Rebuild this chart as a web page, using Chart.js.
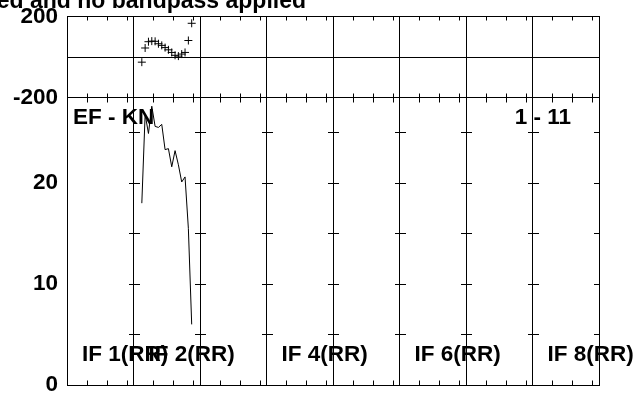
<!DOCTYPE html>
<html>
<head>
<meta charset="utf-8">
<script src="https://cdn.jsdelivr.net/npm/chart.js@4/dist/chart.umd.min.js"></script>
<style>
  body { margin: 0; background: #fff; }
  canvas { display: block; }
</style>
</head>
<body>
<canvas id="myChart" width="642" height="394"></canvas>
<script>
// channels of the one baseline that has data (IF 2), 20 channels per IF
const channels = [23, 24, 25, 26, 27, 28, 29, 30, 31, 32, 33, 34, 35, 36, 37, 38];
const phase = [-28, 42, 73, 76, 75, 63, 55, 44, 33, 20, 6, 2, 12, 20, 79, 164];
const amp = [18.0, 26.8, 24.9, 27.6, 25.6, 25.5, 25.8, 23.3, 23.4, 21.6, 23.2, 21.8, 20.1, 20.6, 15.5, 6.0];

const ampTicks = [0, 10, 20];
const ampMinorTicks = [5, 10, 15, 20, 25];
const phaseTicks = [200, -200];
const ifLabels = ['IF 1(RR)', 'IF 2(RR)', 'IF 4(RR)', 'IF 6(RR)', 'IF 8(RR)'];
const ifLabelPanels = [1, 2, 4, 6, 8];
const baselineLabel = 'EF - KN';
const timeLabel = '1 - 11';
const titleText = 'ed and no bandpass applied';

const nIf = 8;
const chPerIf = 20;
const tickOffsets = [6, 12, 18];   // channel offsets of the small x ticks inside each IF

const FAMILY = '"Liberation Sans", Arial, sans-serif';
const FONT = 'bold 22.5px ' + FAMILY;

const ctx = document.getElementById('myChart').getContext('2d');

// frame, ticks and labels in the AIPS POSSM style
const possmFrame = {
    id: 'possmFrame',
    afterDraw(chart) {
        const c = chart.ctx;
        const a = chart.chartArea;
        const xs = chart.scales.x;
        const ys = chart.scales.y;
        const ps = chart.scales.ph;
        const snap = v => Math.round(v) + 0.5;

        c.save();
        c.strokeStyle = '#000';
        c.lineWidth = 1;

        const L = snap(a.left), R = snap(a.right), T = snap(a.top), B = snap(a.bottom);
        c.strokeRect(L, T, R - L, B - T);

        const yZero = snap(ps.getPixelForValue(0));
        const yLow = snap(ps.getPixelForValue(-200));
        c.beginPath();
        c.moveTo(L, yZero); c.lineTo(R, yZero);
        c.moveTo(L, yLow); c.lineTo(R, yLow);
        c.stroke();

        // small x ticks
        c.beginPath();
        for (let p = 0; p < nIf; p++) {
            tickOffsets.forEach(off => {
                const x = snap(xs.getPixelForValue(0.5 + p * chPerIf + off));
                c.moveTo(x, T); c.lineTo(x, T + 4);
                c.moveTo(x, yLow - 4); c.lineTo(x, yLow + 5);
                c.moveTo(x, B); c.lineTo(x, B - 5);
            });
        }
        // amplitude ticks on the IF dividers
        for (let p = 1; p <= nIf; p++) {
            const x = Math.round(xs.getPixelForValue(0.5 + p * chPerIf));
            ampMinorTicks.forEach(v => {
                const y = snap(ys.getPixelForValue(v));
                c.moveTo(x - 5, y); c.lineTo(Math.min(x + 6, R), y);
            });
        }
        c.stroke();

        c.fillStyle = '#000';
        c.font = FONT;
        c.textBaseline = 'middle';

        c.textAlign = 'right';
        phaseTicks.forEach(v => c.fillText(String(v), a.left - 9, ps.getPixelForValue(v) + 1));
        c.fillText(timeLabel, a.right - 28, yLow + 20);

        c.textAlign = 'left';
        c.fillText(baselineLabel, a.left + 6, yLow + 20);
        ifLabels.forEach((t, i) => {
            const x = xs.getPixelForValue(0.5 + (ifLabelPanels[i] - 1) * chPerIf);
            c.fillText(t, x + 15, ys.getPixelForValue(3));
        });

        c.font = 'bold 23px ' + FAMILY;
        c.textAlign = 'right';
        c.textBaseline = 'alphabetic';
        c.fillText(titleText, 306, 8);
        c.restore();
    }
};

const myChart = new Chart(ctx, {
    type: 'line',
    data: {
        datasets: [{
            label: 'Phase',
            type: 'scatter',
            yAxisID: 'ph',
            data: channels.map((ch, i) => ({ x: ch, y: phase[i] })),
            pointStyle: 'cross',
            pointRadius: 4,
            pointBorderWidth: 1,
            borderColor: '#000',
            backgroundColor: '#000'
        }, {
            label: 'Amplitude',
            yAxisID: 'y',
            data: channels.map((ch, i) => ({ x: ch, y: amp[i] })),
            borderColor: '#000',
            borderWidth: 1,
            pointRadius: 0,
            tension: 0,
            fill: false
        }]
    },
    options: {
        responsive: false,
        animation: false,
        events: [],
        layout: { padding: { left: 0, right: 43, top: 16, bottom: 9 } },
        plugins: {
            legend: { display: false },
            tooltip: { enabled: false },
            title: { display: false }
        },
        scales: {
            x: {
                type: 'linear',
                min: 0.5,
                max: nIf * chPerIf + 0.5,
                afterBuildTicks: s => {
                    s.ticks = [];
                    for (let p = 0; p <= nIf; p++) s.ticks.push({ value: 0.5 + p * chPerIf });
                },
                afterFit: s => { s.height = 0; s.paddingLeft = 0; s.paddingRight = 0; },
                ticks: { display: false },
                grid: { color: '#000', lineWidth: 1, drawTicks: false },
                border: { display: false }
            },
            y: {
                type: 'linear',
                position: 'left',
                min: 0,
                max: 36.53,
                afterBuildTicks: s => { s.ticks = ampTicks.map(v => ({ value: v })); },
                afterFit: s => { s.width = 67; s.paddingTop = 0; s.paddingBottom = 0; },
                ticks: {
                    color: '#000',
                    padding: 9,
                    font: { family: FAMILY, size: 22.5, weight: 'bold' }
                },
                grid: { display: false, drawTicks: false },
                border: { display: false }
            },
            ph: {
                type: 'linear',
                display: false,
                min: -1622.2,
                max: 200
            }
        }
    },
    plugins: [possmFrame]
});
</script>
</body>
</html>
